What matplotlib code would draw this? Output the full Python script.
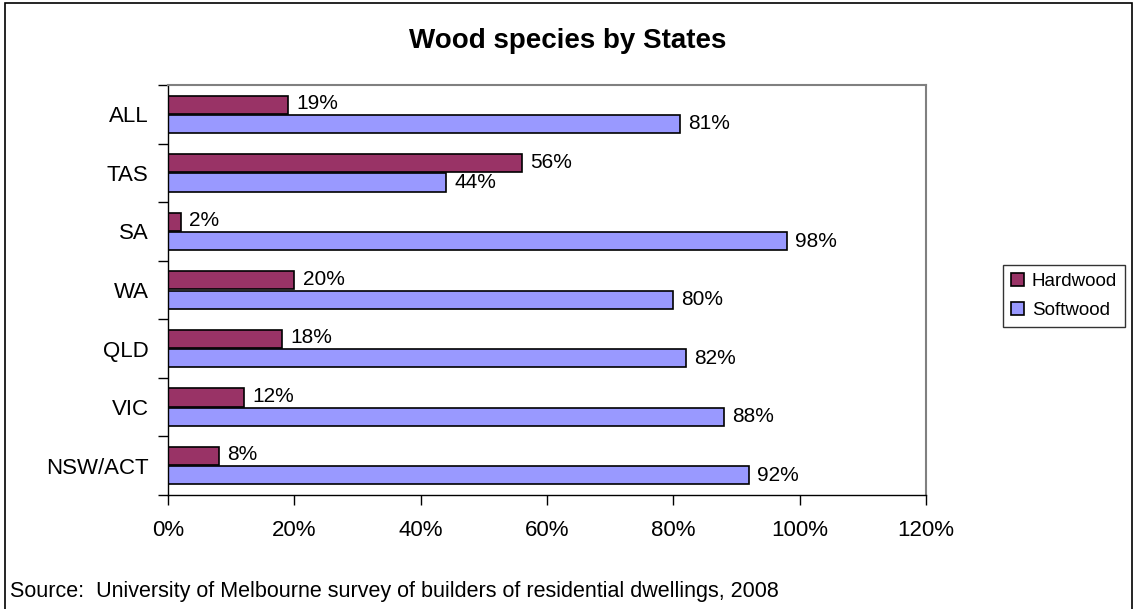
import numpy as np
import matplotlib
matplotlib.use('Agg')
import matplotlib.pyplot as plt
from matplotlib.patches import Rectangle
from matplotlib.ticker import FuncFormatter, FixedLocator

plt.rcParams['font.family'] = ['Liberation Sans', 'DejaVu Sans']

states = ['NSW/ACT', 'VIC', 'QLD', 'WA', 'SA', 'TAS', 'ALL']
hardwood = [8, 12, 18, 20, 2, 56, 19]
softwood = [92, 88, 82, 80, 98, 44, 81]
xticks = [0, 20, 40, 60, 80, 100, 120]

W, H = 1135, 609
fig = plt.figure(figsize=(W / 100, H / 100), dpi=100)
ax = fig.add_axes([168 / W, 1 - 495 / H, (926 - 168) / W, (495 - 85) / H])

y = np.arange(len(states))
bh = 0.31
ax.barh(y + bh / 2 + 0.01, hardwood, height=bh, color='#993366', edgecolor='black', linewidth=1.2, label='Hardwood')
ax.barh(y - bh / 2 - 0.01, softwood, height=bh, color='#9999FF', edgecolor='black', linewidth=1.2, label='Softwood')

# value labels
for yi, hv, sv in zip(y, hardwood, softwood):
    ax.text(hv + 1.3, yi + bh / 2 + 0.03, f'{hv}%', va='center', ha='left', fontsize=15)
    ax.text(sv + 1.3, yi - bh / 2 - 0.01, f'{sv}%', va='center', ha='left', fontsize=15)

ax.set_xlim(0, 120)
ax.set_ylim(-0.5, len(states) - 0.5)
ax.xaxis.set_major_locator(FixedLocator(xticks))
ax.xaxis.set_major_formatter(FuncFormatter(lambda v, p: f'{v:.0f}%'))
ax.set_yticks(y)
ax.set_yticklabels(states)
ax.set_yticks(np.arange(-0.5, len(states), 1), minor=True)
ax.tick_params(axis='y', which='major', length=0, pad=14, labelsize=16)
ax.tick_params(axis='y', which='minor', length=7, direction='out', width=1)
ax.tick_params(axis='x', length=7, direction='out', width=1, pad=11, labelsize=16)

for side in ['top', 'right']:
    ax.spines[side].set_color('#808080')
    ax.spines[side].set_linewidth(1.5)
for side in ['left', 'bottom']:
    ax.spines[side].set_color('black')
    ax.spines[side].set_linewidth(1)

fig.text(568 / W, 1 - 41 / H, 'Wood species by States', ha='center', va='center',
         fontsize=20, fontweight='bold')

leg = fig.legend(loc='center', bbox_to_anchor=(1064 / W, 1 - 296 / H), fontsize=13.5,
                 frameon=True, fancybox=False, edgecolor='black', handlelength=0.7,
                 handleheight=0.7, handletextpad=0.4, labelspacing=0.6, borderpad=0.45)
leg.get_frame().set_linewidth(1)

fig.text(10 / W, 1 - 592 / H, 'Source:  University of Melbourne survey of builders of residential dwellings, 2008',
         ha='left', va='center', fontsize=15.5)

fig.patches.append(Rectangle((5 / W, -0.1), (1132 - 5) / W, 1.1 - 3 / H, transform=fig.transFigure,
                             fill=False, edgecolor='black', linewidth=1.2))

fig.savefig('out.png', dpi=100)
